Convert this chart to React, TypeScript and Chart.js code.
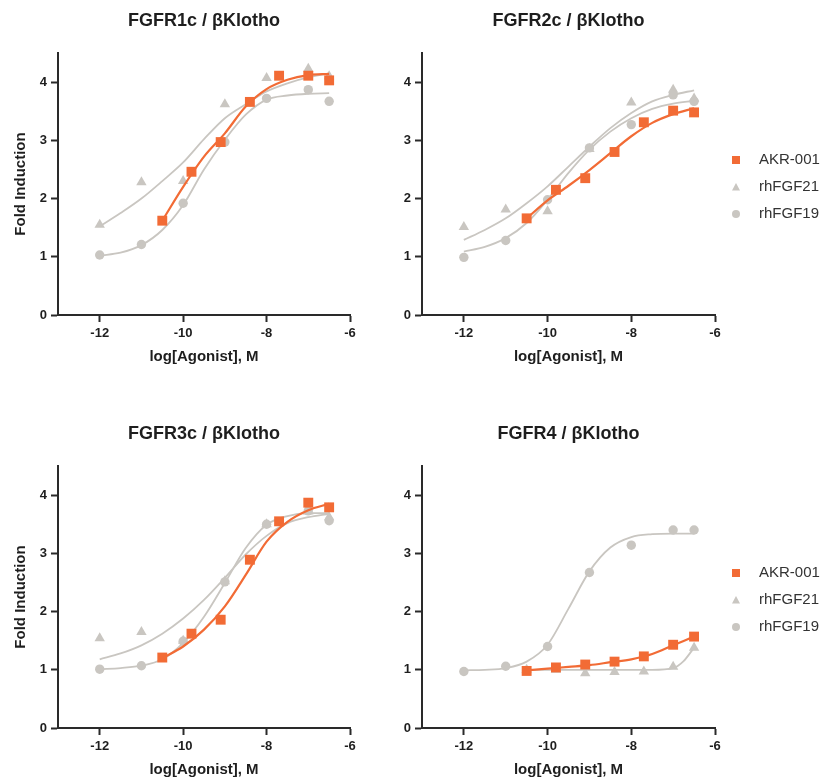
import React, { useEffect, useRef } from 'react';
import { Chart, registerables } from 'chart.js';

Chart.register(...registerables);

// ---------- data ----------
const panelTitles = ['FGFR1c / βKlotho', 'FGFR2c / βKlotho', 'FGFR3c / βKlotho', 'FGFR4 / βKlotho'];
const seriesNames = ['AKR-001', 'rhFGF21', 'rhFGF19'];
const xTickValues = [-12, -10, -8, -6];
const yTickValues = [0, 1, 2, 3, 4];
const xAxisTitle = 'log[Agonist], M';
const yAxisTitle = 'Fold Induction';

const akrDoses = [-10.5, -9.8, -9.1, -8.4, -7.7, -7.0, -6.5];
const fgfDoses = [-12, -11, -10, -9, -8, -7, -6.5];
const fitX = [-12, -11.5, -11, -10.5, -10, -9.5, -9, -8.5, -8, -7.5, -7, -6.5];
const akrFitX = [-10.5, -10, -9.5, -9, -8.5, -8, -7.5, -7, -6.5];
const r4Fgf21FitX = [-10.5, -10, -9.5, -9, -8.5, -8, -7.5, -7, -6.75, -6.5];

// FGFR1c
const r1cAkr = [1.62, 2.46, 2.97, 3.66, 4.11, 4.11, 4.03];
const r1cFgf21 = [1.55, 2.28, 2.3, 3.62, 4.07, 4.23, 4.1];
const r1cFgf19 = [1.03, 1.21, 1.92, 2.97, 3.72, 3.87, 3.67];
const r1cAkrFit = [1.62, 2.2, 2.72, 3.12, 3.58, 3.88, 4.04, 4.12, 4.14];
const r1cFgf21Fit = [1.52, 1.75, 2.0, 2.3, 2.62, 3.02, 3.38, 3.62, 3.84, 3.98, 4.08, 4.15];
const r1cFgf19Fit = [1.02, 1.07, 1.2, 1.46, 1.89, 2.5, 3.01, 3.44, 3.7, 3.77, 3.8, 3.81];

// FGFR2c
const r2cAkr = [1.66, 2.15, 2.35, 2.8, 3.31, 3.51, 3.48];
const r2cFgf21 = [1.51, 1.81, 1.78, 2.85, 3.65, 3.87, 3.72];
const r2cFgf19 = [0.99, 1.28, 1.98, 2.87, 3.27, 3.78, 3.67];
const r2cAkrFit = [1.66, 1.97, 2.22, 2.49, 2.78, 3.07, 3.3, 3.45, 3.55];
const r2cFgf21Fit = [1.29, 1.46, 1.66, 1.92, 2.21, 2.55, 2.89, 3.21, 3.47, 3.67, 3.78, 3.86];
const r2cFgf19Fit = [1.09, 1.17, 1.32, 1.58, 1.98, 2.44, 2.84, 3.15, 3.38, 3.54, 3.63, 3.68];

// FGFR3c
const r3cAkr = [1.21, 1.62, 1.86, 2.89, 3.55, 3.87, 3.79];
const r3cFgf21 = [1.54, 1.65, 1.5, 2.52, 3.5, 3.72, 3.62];
const r3cFgf19 = [1.01, 1.07, 1.49, 2.51, 3.5, 3.73, 3.56];
const r3cAkrFit = [1.2, 1.4, 1.69, 2.09, 2.63, 3.2, 3.54, 3.74, 3.85];
const r3cFgf21Fit = [1.18, 1.28, 1.42, 1.62, 1.88, 2.2, 2.58, 2.98, 3.3, 3.52, 3.62, 3.68];
const r3cFgf19Fit = [1.01, 1.03, 1.07, 1.18, 1.46, 1.91, 2.49, 3.09, 3.49, 3.64, 3.69, 3.69];

// FGFR4
const r4Akr = [0.98, 1.04, 1.09, 1.14, 1.23, 1.43, 1.57];
const r4Fgf21 = [1.0, 1.0, 0.94, 0.96, 0.97, 1.05, 1.38];
const r4Fgf19 = [0.97, 1.06, 1.4, 2.67, 3.14, 3.4, 3.4];
const r4AkrFit = [0.99, 1.02, 1.05, 1.08, 1.13, 1.18, 1.27, 1.42, 1.57];
const r4Fgf21Fit = [1.0, 1.0, 1.0, 1.0, 1.0, 1.0, 1.0, 1.03, 1.15, 1.38];
const r4Fgf19Fit = [0.99, 1.0, 1.03, 1.14, 1.43, 2.05, 2.69, 3.1, 3.28, 3.33, 3.34, 3.34];

// ---------- styles ----------
const ORANGE = '#F26B35';
const GRAY = '#C9C6C1';
const AXIS = '#2a2a2a';
const TEXT = '#1e1e1e';
const FONT = '"Liberation Sans", Arial, Helvetica, sans-serif';

type Pt = { x: number; y: number };
const toPts = (xs: number[], ys: number[]): Pt[] => xs.map((x, i) => ({ x, y: ys[i] }));

interface PanelSpec {
  title: string;
  akr: Pt[]; akrFit: Pt[];
  fgf21: Pt[]; fgf21Fit: Pt[];
  fgf19: Pt[]; fgf19Fit: Pt[];
  leftPanel: boolean;
}

const panels: PanelSpec[] = [
  {
    title: panelTitles[0],
    akr: toPts(akrDoses, r1cAkr), akrFit: toPts(akrFitX, r1cAkrFit),
    fgf21: toPts(fgfDoses, r1cFgf21), fgf21Fit: toPts(fitX, r1cFgf21Fit),
    fgf19: toPts(fgfDoses, r1cFgf19), fgf19Fit: toPts(fitX, r1cFgf19Fit),
    leftPanel: true,
  },
  {
    title: panelTitles[1],
    akr: toPts(akrDoses, r2cAkr), akrFit: toPts(akrFitX, r2cAkrFit),
    fgf21: toPts(fgfDoses, r2cFgf21), fgf21Fit: toPts(fitX, r2cFgf21Fit),
    fgf19: toPts(fgfDoses, r2cFgf19), fgf19Fit: toPts(fitX, r2cFgf19Fit),
    leftPanel: false,
  },
  {
    title: panelTitles[2],
    akr: toPts(akrDoses, r3cAkr), akrFit: toPts(akrFitX, r3cAkrFit),
    fgf21: toPts(fgfDoses, r3cFgf21), fgf21Fit: toPts(fitX, r3cFgf21Fit),
    fgf19: toPts(fgfDoses, r3cFgf19), fgf19Fit: toPts(fitX, r3cFgf19Fit),
    leftPanel: true,
  },
  {
    title: panelTitles[3],
    akr: toPts(akrDoses, r4Akr), akrFit: toPts(akrFitX, r4AkrFit),
    fgf21: toPts(akrDoses, r4Fgf21), fgf21Fit: toPts(r4Fgf21FitX, r4Fgf21Fit),
    fgf19: toPts(fgfDoses, r4Fgf19), fgf19Fit: toPts(fitX, r4Fgf19Fit),
    leftPanel: false,
  },
];

function drawMarker(ctx: CanvasRenderingContext2D, style: string, x: number, y: number, s: number) {
  ctx.beginPath();
  if (style === 'rect') {
    ctx.rect(x - s / 2, y - s / 2, s, s);
  } else if (style === 'triangle') {
    const h = s * 0.87;
    ctx.moveTo(x, y - h / 2 - 0.5);
    ctx.lineTo(x + s / 2, y + h / 2);
    ctx.lineTo(x - s / 2, y + h / 2);
    ctx.closePath();
  } else {
    ctx.arc(x, y, s / 2, 0, Math.PI * 2);
  }
  ctx.fill();
}

const sideLegend = {
  id: 'sideLegend',
  afterDraw(chart: any, _args: any, opts: any) {
    if (!opts || !opts.items || !opts.items.length) return;
    const { ctx, chartArea } = chart;
    const mx = chartArea.right + opts.markerOffset;
    const tx = chartArea.right + opts.textOffset;
    const cy = (chartArea.top + chartArea.bottom) / 2 + opts.shiftY;
    const n = opts.items.length;
    ctx.save();
    ctx.font = `${opts.fontSize}px ${FONT}`;
    ctx.textBaseline = 'middle';
    ctx.textAlign = 'left';
    opts.items.forEach((it: any, i: number) => {
      const y = cy + (i - (n - 1) / 2) * opts.rowGap;
      ctx.fillStyle = it.color;
      drawMarker(ctx, it.style, mx, y, it.size);
      ctx.fillStyle = '#333';
      ctx.fillText(it.text, tx, y);
    });
    ctx.restore();
  },
};

const CANVAS_H = 368;
const AREA_TOP = 53;
const AREA_BOTTOM = 315;

function Panel({ spec, left, top, width, yAxisWidth, rightPad }: {
  spec: PanelSpec; left: number; top: number; width: number; yAxisWidth: number; rightPad: number;
}) {
  const ref = useRef<HTMLCanvasElement | null>(null);
  useEffect(() => {
    if (!ref.current) return;
    const pointDs = (label: string, data: Pt[], color: string, style: string, r: number, order: number) => ({
      label, data, showLine: false, pointStyle: style, pointRadius: r, pointHoverRadius: r,
      backgroundColor: color, borderColor: color, pointBorderWidth: 0, borderWidth: 0, order,
    });
    const fitDs = (label: string, data: Pt[], color: string, w: number, order: number) => ({
      label, data, showLine: true, pointRadius: 0, pointHoverRadius: 0, borderColor: color,
      backgroundColor: color, borderWidth: w, cubicInterpolationMode: 'monotone', fill: false, order,
    });
    const titleFontSize = 18;
    const titleLH = titleFontSize * 1.2;
    const titleCenter = 21;
    const chart = new Chart(ref.current, {
      type: 'scatter',
      data: {
        datasets: [
          pointDs(seriesNames[0], spec.akr, ORANGE, 'rect', 7, 0),
          fitDs(seriesNames[0] + ' fit', spec.akrFit, ORANGE, 2.2, 1),
          pointDs(seriesNames[2], spec.fgf19, GRAY, 'circle', 4.7, 2),
          pointDs(seriesNames[1], spec.fgf21, GRAY, 'triangle', 6, 3),
          fitDs(seriesNames[2] + ' fit', spec.fgf19Fit, GRAY, 1.8, 4),
          fitDs(seriesNames[1] + ' fit', spec.fgf21Fit, GRAY, 1.8, 5),
        ] as any,
      },
      plugins: [sideLegend as any],
      options: {
        animation: false,
        responsive: false,
        events: [],
        layout: { padding: { left: 0, right: rightPad, top: 0, bottom: 0 } },
        plugins: {
          legend: { display: false },
          tooltip: { enabled: false },
          title: {
            display: true,
            text: spec.title,
            fullSize: false,
            color: TEXT,
            font: { family: FONT, size: titleFontSize, weight: 'bold', lineHeight: 1.2 },
            padding: { top: titleCenter - titleLH / 2, bottom: AREA_TOP - (titleCenter - titleLH / 2) - titleLH },
          },
          sideLegend: spec.leftPanel ? { items: [] } : {
            markerOffset: 21, textOffset: 44, shiftY: 3, rowGap: 27, fontSize: 15,
            items: [
              { text: seriesNames[0], color: ORANGE, style: 'rect', size: 8 },
              { text: seriesNames[1], color: GRAY, style: 'triangle', size: 8 },
              { text: seriesNames[2], color: GRAY, style: 'circle', size: 8 },
            ],
          },
        } as any,
        scales: {
          x: {
            type: 'linear',
            min: -13,
            max: -6,
            afterBuildTicks: (s: any) => { s.ticks = xTickValues.map((v) => ({ value: v })); },
            afterFit: (s: any) => { s.height = CANVAS_H - AREA_BOTTOM; s.paddingLeft = 0; s.paddingRight = 0; },
            grid: { display: true, drawOnChartArea: false, drawTicks: true, tickLength: 7, tickWidth: 2, tickColor: AXIS },
            border: { display: true, color: AXIS, width: 2 },
            ticks: {
              includeBounds: false, padding: 4, color: TEXT, maxRotation: 0, autoSkip: false,
              font: { family: FONT, size: 13, weight: 'bold' },
              callback: (v: any) => String(v),
            },
            title: {
              display: true, text: xAxisTitle, color: TEXT,
              font: { family: FONT, size: 15, weight: 'bold', lineHeight: 1.2 },
              padding: { top: 0, bottom: 2 },
            },
          },
          y: {
            type: 'linear',
            min: 0,
            max: 4.5,
            afterBuildTicks: (s: any) => { s.ticks = yTickValues.map((v) => ({ value: v })); },
            afterFit: (s: any) => { s.width = yAxisWidth; s.paddingTop = 0; s.paddingBottom = 0; },
            grid: { display: true, drawOnChartArea: false, drawTicks: true, tickLength: 7, tickWidth: 2, tickColor: AXIS },
            border: { display: true, color: AXIS, width: 2 },
            ticks: {
              includeBounds: false, padding: 4, color: TEXT, autoSkip: false,
              font: { family: FONT, size: 13, weight: 'bold' },
              callback: (v: any) => String(v),
            },
            title: {
              display: spec.leftPanel, text: yAxisTitle, color: TEXT,
              font: { family: FONT, size: 15, weight: 'bold', lineHeight: 1.2 },
              padding: { top: 12, bottom: 0 },
            },
          },
        },
      } as any,
    });
    return () => chart.destroy();
  }, [spec, yAxisWidth, rightPad]);

  return (
    <div style={{ position: 'absolute', left, top, width, height: CANVAS_H }}>
      <canvas ref={ref} width={width} height={CANVAS_H} style={{ width, height: CANVAS_H, display: 'block' }} />
    </div>
  );
}

export default function App() {
  return (
    <div style={{ position: 'absolute', left: 0, top: 0, width: 824, height: 781, overflow: 'hidden', background: '#ffffff' }}>
      <Panel spec={panels[0]} left={0} top={0} width={370} yAxisWidth={58} rightPad={20} />
      <Panel spec={panels[1]} left={370} top={0} width={454} yAxisWidth={52} rightPad={109} />
      <Panel spec={panels[2]} left={0} top={413} width={370} yAxisWidth={58} rightPad={20} />
      <Panel spec={panels[3]} left={370} top={413} width={454} yAxisWidth={52} rightPad={109} />
    </div>
  );
}
